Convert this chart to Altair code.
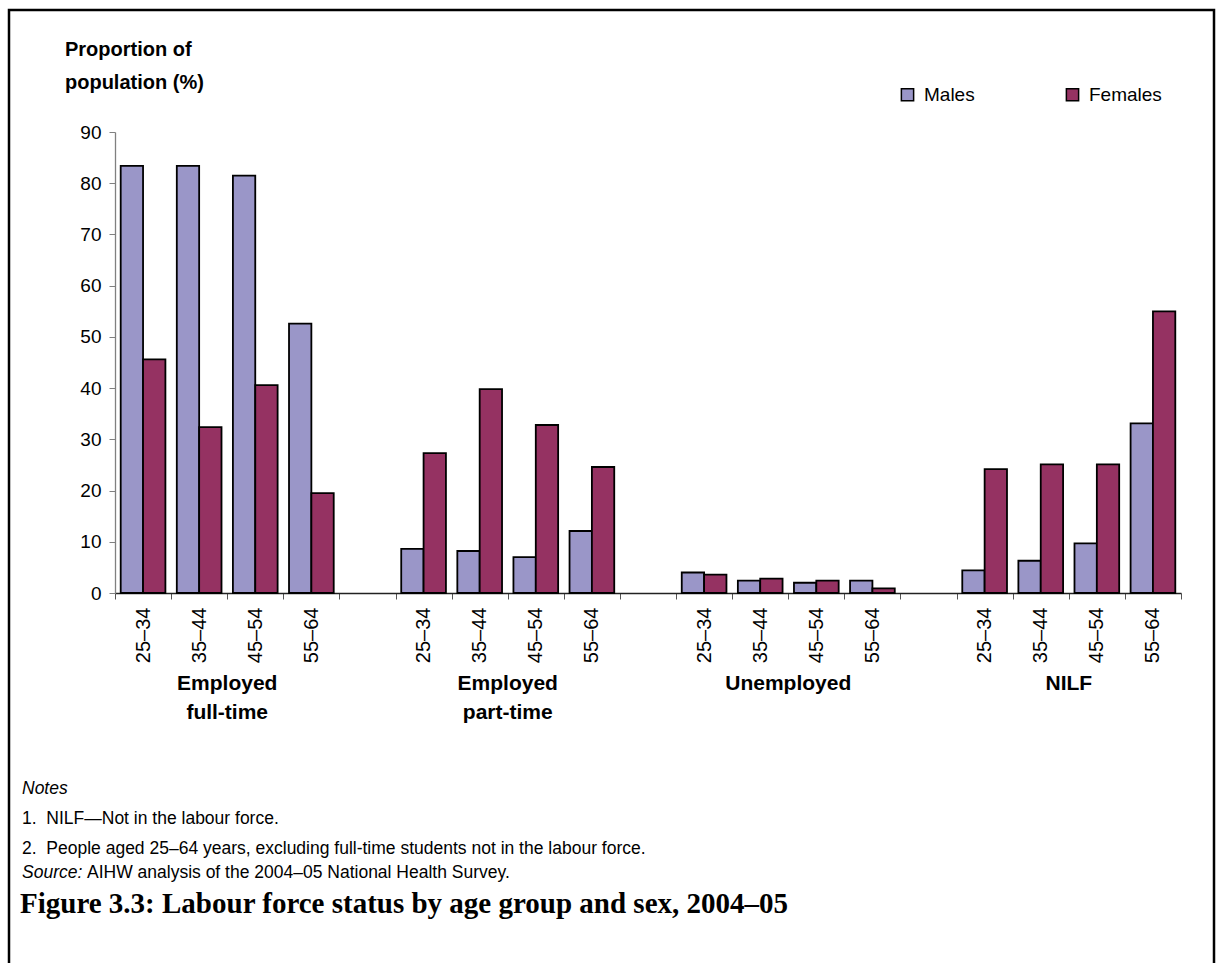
import altair as alt
import pandas as pd

# Labour force status by age group and sex, 2004-05 (per cent of population)
groups = ["Employed full-time", "Employed part-time", "Unemployed", "NILF"]
group_labels = ["Employed\nfull-time", "Employed\npart-time", "Unemployed", "NILF"]
ages = ["25–34", "35–44", "45–54", "55–64"]
sexes = ["Males", "Females"]

males = {
    "Employed full-time": [83.4, 83.4, 81.5, 52.6],
    "Employed part-time": [8.6, 8.2, 7.0, 12.1],
    "Unemployed": [4.0, 2.4, 2.0, 2.4],
    "NILF": [4.4, 6.3, 9.7, 33.1],
}
females = {
    "Employed full-time": [45.6, 32.4, 40.6, 19.5],
    "Employed part-time": [27.3, 39.8, 32.8, 24.6],
    "Unemployed": [3.6, 2.8, 2.4, 0.9],
    "NILF": [24.2, 25.1, 25.1, 55.0],
}

y_ticks = list(range(0, 91, 10))
colors = ["#9A96C8", "#953262"]

# x slots: four age bands per group, with an empty slot between groups
slot_domain = []
for i, g in enumerate(groups):
    slot_domain += [f"{g}|{a}" for a in ages]
    if i < len(groups) - 1:
        slot_domain.append(f"gap{i}|")

rows = []
for g in groups:
    for a, m, f in zip(ages, males[g], females[g]):
        rows.append({"slot": f"{g}|{a}", "sex": "Males", "value": m})
        rows.append({"slot": f"{g}|{a}", "sex": "Females", "value": f})
df = pd.DataFrame(rows)

W, H = 1066, 461
LEFT, TOP = 115, 132
FONT = "Liberation Sans"

x_scale = alt.Scale(domain=slot_domain, paddingInner=0, paddingOuter=0)

bars = alt.Chart(df).mark_bar(stroke="black", strokeWidth=1.8).encode(
    x=alt.X(
        "slot:N",
        scale=x_scale,
        sort=slot_domain,
        axis=alt.Axis(
            title=None,
            labelExpr="split(datum.value, '|')[1]",
            labelAngle=-90,
            labelFontSize=20,
            labelFont=FONT,
            labelColor="black",
            labelPadding=8,
            tickBand="extent",
            tickSize=6,
            tickColor="#555555",
            domainColor="#222222",
            domainWidth=1.3,
            grid=False,
        ),
    ),
    xOffset=alt.XOffset(
        "sex:N", sort=sexes, scale=alt.Scale(domain=sexes, paddingOuter=0.255, paddingInner=0)
    ),
    y=alt.Y(
        "value:Q",
        scale=alt.Scale(domain=[0, 90], nice=False),
        axis=alt.Axis(
            title=None,
            values=y_ticks,
            labelFontSize=19,
            labelFont=FONT,
            labelColor="black",
            labelPadding=8,
            tickSize=6,
            tickColor="#808080",
            domainColor="#808080",
            domainWidth=1.3,
            grid=False,
        ),
    ),
    color=alt.Color(
        "sex:N",
        sort=sexes,
        scale=alt.Scale(domain=sexes, range=colors),
        legend=alt.Legend(
            title=None,
            orient="none",
            legendX=898 - LEFT,
            legendY=85 - TOP,
            direction="horizontal",
            symbolType="square",
            symbolSize=150,
            symbolStrokeColor="black",
            symbolStrokeWidth=1.5,
            symbolOpacity=1,
            labelFontSize=19,
            labelFont=FONT,
            labelColor="black",
            labelOffset=7,
            columnPadding=88,
        ),
    ),
)

# group captions under the age labels, centred on each group of four slots
cap_df = pd.DataFrame({
    "slot": [f"{g}|{ages[1]}" for g in groups],
    "label": group_labels,
})
captions = alt.Chart(cap_df).mark_text(
    fontSize=21, fontWeight="bold", font=FONT, baseline="top", align="center",
    lineBreak="\n", lineHeight=29, color="black",
).encode(
    x=alt.X("slot:N", scale=x_scale, sort=slot_domain, bandPosition=1),
    y=alt.value(673 - TOP),
    text="label:N",
)


def note(text, px, py, size=17.5, weight="normal", style="normal", font=FONT):
    return alt.Chart(pd.DataFrame({"t": [text]})).mark_text(
        align="left", baseline="middle", fontSize=size, fontWeight=weight,
        fontStyle=style, font=font, color="black",
    ).encode(x=alt.value(px - LEFT), y=alt.value(py - TOP), text="t:N")


texts = [
    note("Proportion of", 65, 50, size=20, weight="bold"),
    note("population (%)", 65, 83, size=20, weight="bold"),
    note("Notes", 22, 789, style="italic"),
    note("1.\u00a0\u00a0NILF—Not in the labour force.", 22, 819),
    note("2.\u00a0\u00a0People aged 25–64 years, excluding full-time students not in the labour force.", 22, 849),
    note("Source:", 22, 873, style="italic"),
    note("AIHW analysis of the 2004–05 National Health Survey.", 87, 873),
    note("Figure 3.3: Labour force status by age group and sex, 2004–05", 20, 904,
         size=29, weight="bold", font="Liberation Serif"),
]

frame = alt.Chart(pd.DataFrame({"k": [0]})).mark_rect(
    filled=False, stroke="black", strokeWidth=2.5
).encode(
    x=alt.value(9 - LEFT), x2=alt.value(1214 - LEFT),
    y=alt.value(10 - TOP), y2=alt.value(1000 - TOP),
)

chart = alt.layer(frame, bars, captions, *texts).properties(
    width=W,
    height=H,
    padding={"left": LEFT, "top": TOP, "right": 1222 - LEFT - W, "bottom": 963 - TOP - H},
    autosize=alt.AutoSizeParams(type="none"),
).configure(font=FONT).configure_view(stroke=None)

chart.save("out.html", embed_options={"renderer": "svg", "actions": False})
